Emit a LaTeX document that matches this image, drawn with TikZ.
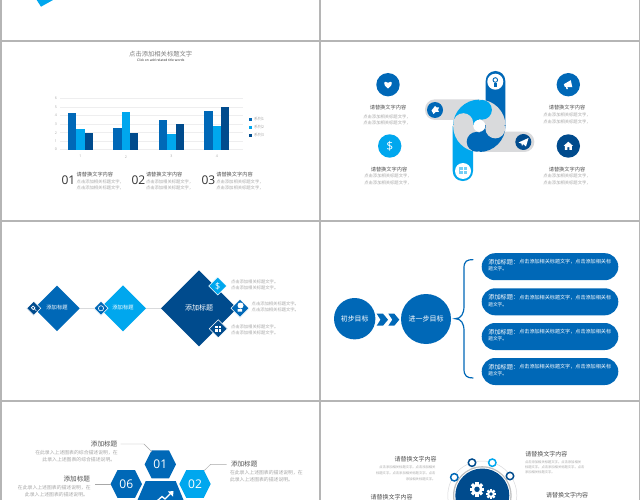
\documentclass[tikz,border=0pt]{standalone}
\usepackage{fontspec}
\setmainfont{Noto Sans CJK SC}
\newfontfamily\numfont{Open Sans}
\usetikzlibrary{shapes.geometric}
\definecolor{cblue}{HTML}{0068B7}
\definecolor{clight}{HTML}{00A7EE}
\definecolor{cdark}{HTML}{004B8D}
\definecolor{cgray}{HTML}{D9DADC}
\definecolor{cframe}{HTML}{B5B5B5}
\definecolor{ctxt}{HTML}{A8A8A8}
\definecolor{chead}{HTML}{505050}
\newcommand\fsz[1]{\fontsize{#1}{#1}\selectfont}
\tikzset{
  lbl/.style={inner sep=0pt,outer sep=0pt},
  small/.style={lbl,text=ctxt,font=\fsz{4.3}},
  tiny/.style={lbl,text=ctxt,font=\fsz{3.3}},
  desc/.style={lbl,text=ctxt,font=\fsz{4.85}},
  head/.style={lbl,text=chead,font=\fsz{5.2}},
  headb/.style={lbl,text=chead,font=\fsz{6}},
  headc/.style={lbl,text=chead,font=\fsz{6.6}},
  axisnum/.style={lbl,text=ctxt,font=\numfont\fsz{3.6}},
  disc/.style={circle,fill=#1,draw=none,inner sep=0pt,outer sep=0pt},
  dia/.style={diamond,aspect=1,fill=#1,draw=none,inner sep=0pt,outer sep=0pt},
  sdia/.style={diamond,aspect=1,fill=#1,draw=white,line width=.5pt,inner sep=0pt,outer sep=0pt,minimum size=14pt},
  pill/.style={rectangle,fill=cblue,rounded corners=13.5pt,minimum width=136.6pt,minimum height=27pt,inner sep=0pt,outer sep=0pt},
  wlbl/.style={lbl,text=white},
  conn/.style={draw=cgray,line width=.5pt},
  leader/.style={draw=ctxt,line width=.4pt},
  hex/.style={fill=#1,draw=none},
  ringdot/.style={circle,fill=white,draw=#1,line width=1.5pt,minimum size=7.4pt,inner sep=0pt}
}
\newcommand\hexagon[5]{% x y halfwide halftop style
  \fill[#5] ({#1-#3},#2) -- ({#1-#4},{#2-#3*0.89}) -- ({#1+#4},{#2-#3*0.89}) -- ({#1+#3},#2) -- ({#1+#4},{#2+#3*0.89}) -- ({#1-#4},{#2+#3*0.89}) -- cycle;}
\newcommand\gearicon[4]{%
  \begin{scope}[shift={(#1,#2)}]
    \foreach \a in {0,45,...,315}{\fill[white,rotate=\a] (-#3*.22,{-#3}) rectangle (#3*.22,0);}
    \fill[white] (0,0) circle[radius=#3*.78];
    \fill[#4] (0,0) circle[radius=#3*.38];
  \end{scope}}
\begin{document}
\begin{tikzpicture}[x=1pt,y=-1pt]
\useasboundingbox (0,0) rectangle (640,500);
\clip (0,0) rectangle (640,500);
\fill[cframe] (0,0) rectangle (640,500);
% panels
\fill[white] (2,-1) rectangle (319,40);
\fill[white] (321,-1) rectangle (638.5,40);
\fill[white] (2,42) rectangle (319,220);
\fill[white] (321,42) rectangle (638.5,220);
\fill[white] (2,222) rectangle (319,400);
\fill[white] (321,222) rectangle (638.5,400);
\fill[white] (2,402) rectangle (319,501);
\fill[white] (321,402) rectangle (638.5,501);
% fragment
\fill[clight] (36.7,0) -- (41,6.7) -- (53,0) -- cycle;

% ---------- chart slide
\node[lbl,text=gray,font=\fsz{6.3}] (charttitle) at (160.7,53.7) {点击添加相关标题文字};
\node[lbl,text=black!85,font=\numfont\fsz{3.3}] (chartsub) at (160.7,60.2) {Click on add related title words};
\foreach \v in {0,...,6}{
  \draw[cgray!45,line width=.4pt] (60,{149.7-8.5*\v}) -- (243,{149.7-8.5*\v});
  \node[axisnum] (ax\v) at (56,{149.7-8.5*\v}) {\v};
}
\foreach \x/\a/\b/\c/\n in {68/4.3/2.4/2/1,113.3/2.5/4.4/2/2,159/3.5/1.8/3/3,204.3/4.5/2.8/5/4}{
  \fill[cblue] (\x,149.7) rectangle ({\x+8.2},{149.7-8.5*\a});
  \fill[clight] ({\x+8.2},149.7) rectangle ({\x+16.6},{149.7-8.5*\b});
  \fill[cdark] ({\x+16.6},149.7) rectangle ({\x+24.9},{149.7-8.5*\c});
  \node[axisnum] (xl\n) at ({\x+16.6-4.1},156.7) {\n};
}
\foreach \y/\c/\n in {119.3/cblue/1,127.3/clight/2,135.3/cdark/3}{
  \fill[\c] (249,{\y-1.3}) rectangle (251.6,{\y+1.3});
  \node[lbl,text=ctxt,font=\fsz{3.9},anchor=west] (lg\n) at (254,\y) {系列\n};
}
\foreach \x/\n/\m in {61.5/01/a,131.5/02/b,201.5/03/c}{
  \node[lbl,text=black!80,font=\numfont\fsz{12},anchor=west] (num\m) at (\x,180.3) {\n};
}
\foreach \x/\m in {76.7/a,146/b,216.3/c}{
  \node[head,anchor=west] (ct\m) at (\x,174.7) {请替换文字内容};
  \node[small,anchor=west] (ca\m) at (\x,181.7) {点击添加相关标题文字，};
  \node[small,anchor=west] (cb\m) at (\x,188) {点击添加相关标题文字，};
}

% ---------- swirl slide
\fill[cblue] (485.7,126) [rounded corners=9.8pt] -- (485.7,71) -- (505.3,71) [sharp corners] -- (505.3,126) -- cycle;
\fill[clight] (452.7,126) -- (473,126) [rounded corners=9.8pt] -- (473,181) -- (452.7,181) [sharp corners] -- cycle;
\fill[cgray] (479,99.3) [rounded corners=10pt] -- (425,99.3) -- (425,120) [sharp corners] -- (479,120) -- cycle;
\fill[cgray] (479,131.7) [rounded corners=10pt] -- (534.3,131.7) -- (534.3,152) [sharp corners] -- (479,152) -- cycle;
\coordinate (swirl) at (479.3,125.8);
\begin{scope}\clip (swirl) rectangle +(-27,-27);\fill[clight] (swirl) circle[radius=26.2];\end{scope}
\begin{scope}\clip (swirl) rectangle +(27,-27);\fill[cgray] (swirl) circle[radius=26.2];\end{scope}
\begin{scope}\clip (swirl) rectangle +(27,27);\fill[cblue] (swirl) circle[radius=26.2];\end{scope}
\begin{scope}\clip (swirl) rectangle +(-27,27);\fill[cgray] (swirl) circle[radius=26.2];\end{scope}
\fill[clight] (swirl) ++(2.7,-16) circle[radius=9.9];
\fill[cgray] (swirl) ++(16,2.7) circle[radius=9.9];
\fill[cblue] (swirl) ++(-2.7,16) circle[radius=9.9];
\fill[cgray] (swirl) ++(-16,-2.7) circle[radius=9.9];
\fill[white] (swirl) circle[radius=6];
\node[disc=white,minimum size=16pt] (armT) at (495.3,81.7) {};
\node[disc=white,minimum size=16pt] (armB) at (463,171) {};
\node[disc=cblue,minimum size=16pt] (armL) at (435,110) {};
\node[disc=cdark,minimum size=16pt] (armR) at (523.3,142) {};
% arm icons
\draw[cblue,line width=.9pt] (495.3,80) circle[radius=2.3];
\fill[cblue] (493.6,83.4) rectangle (497,87.5);
\fill[clight!55] (459,167.5) rectangle (467,174.5);
\draw[white,line width=.3pt] (459.5,170) -- (466.5,170) (463,167.5) -- (463,174.5);
\fill[white] (431.5,110.5) -- (435,106) -- (436.5,107.5) -- (439,107.5) -- (438,110) -- (439,112) -- (435.5,112) -- (433.5,114) -- cycle;
\fill[white] (518.5,142.5) -- (528.5,138) -- (526,146.5) -- (523,144) -- (522,146) -- (521.5,143.7) -- cycle;

\node[disc=cblue,minimum size=23.4pt] (cheart) at (388,84.7) {};
\node[disc=clight,minimum size=23.4pt,text=white,font=\numfont\fsz{12}] (cdollar) at (389.7,146) {\$};
\node[disc=cblue,minimum size=23.4pt] (cmega) at (568.3,84.7) {};
\node[disc=cdark,minimum size=23.4pt] (chouse) at (568.3,146) {};
\begin{scope}[shift={(cheart)}]
  \fill[white] (0,3.8) .. controls (-6.5,-1) and (-3.8,-4.8) .. (0,-1.9) .. controls (3.8,-4.8) and (6.5,-1) .. (0,3.8) -- cycle;
\end{scope}
\begin{scope}[shift={(cmega)}]
  \fill[white] (-4.5,-0.5) -- (2.5,-4.5) -- (4,2.5) -- (-3.5,2.2) -- cycle;
  \fill[white] (-2.5,2) -- (-1,2) -- (-0.3,4.5) -- (-1.8,4.5) -- cycle;
\end{scope}
\begin{scope}[shift={(chouse)}]
  \fill[white] (-4.8,0) -- (0,-4.3) -- (4.8,0) -- (3.5,0) -- (3.5,3.8) -- (1,3.8) -- (1,1.2) -- (-1,1.2) -- (-1,3.8) -- (-3.5,3.8) -- (-3.5,0) -- cycle;
\end{scope}
\foreach \x/\yy/\m in {388/108/a,389/169.3/b,567/108/c,567/169.3/d}{
  \node[head] (st\m) at (\x,\yy) {请替换文字内容};
}
\node[small] (sa1) at (387,116.7) {点击添加相关标题文字，};
\node[small] (sa2) at (387,123) {点击添加相关标题文字，};
\node[small] (sb1) at (388,176.3) {点击添加相关标题文字，};
\node[small] (sb2) at (388,182.7) {点击添加相关标题文字，};
\node[small] (sc1) at (567,115) {点击添加相关标题文字，};
\node[small] (sc2) at (567,121.5) {点击添加相关标题文字，};
\node[small] (sd1) at (567,176.3) {点击添加相关标题文字，};
\node[small] (sd2) at (567,182.7) {点击添加相关标题文字，};

% ---------- diamond slide
\node[dia=cblue,minimum size=45.4pt] (d1) at (57,308.3) {};
\node[dia=clight,minimum size=46pt] (d2) at (123,308.3) {};
\node[dia=cdark,minimum size=76pt] (d3) at (199,308.3) {};
\node[sdia=cblue] (s2) at (101,308.3) {};
\draw[conn] (d1) -- (s2);
\draw[conn] (d2) -- (d3);
\node[sdia=cdark] (s1) at (33.7,308.3) {};
\node[sdia=clight,minimum size=18pt] (s3) at (217.7,286) {};
\node[sdia=cblue,minimum size=18pt] (s4) at (240,308.3) {};
\node[sdia=cdark,minimum size=18pt] (s5) at (218.3,328.7) {};
\node[wlbl,font=\fsz{5.3}] (dt1) at (57,307.3) {添加标题};
\node[wlbl,font=\fsz{5.3}] (dt2) at (123,307.3) {添加标题};
\node[wlbl,font=\fsz{7}] (dt3) at (199,308.3) {添加标题};
\node[wlbl,font=\numfont\fsz{9}] (dollar2) at (217.7,286) {\$};
\draw[white,line width=.7pt] (33.2,307.8) circle[radius=1.8] (34.5,309) -- (36.3,310.8);
\draw[white,line width=.6pt] (101,308.3) circle[radius=2.6];
\fill[white] (240.5,305.5) circle[radius=3] (237.5,309) rectangle (242,311.5);
\fill[white] (215.3,326) rectangle (221.3,332);
\draw[cdark,line width=.3pt] (218.3,326) -- (218.3,332) (215.3,328) -- (221.3,328);
\foreach \x/\yy/\m in {231/281.7/a,231/288/b,251.7/304/c,251.7/310.3/d,231/327/e,231/333.3/f}{
  \node[small,anchor=west] (dx\m) at (\x,\yy) {点击添加相关标题文字。};
}

% ---------- goal slide
\node[disc=cblue,minimum size=41.4pt,text=white,font=\fsz{6.9}] (g1) at (354.7,318.7) {初步目标};
\node[disc=cblue,minimum size=50pt,text=white,font=\fsz{7}] (g2) at (426,319) {进一步目标};
\fill[cblue] (376.7,313.7) -- (383,313.7) -- (388,319.7) -- (383,325.7) -- (376.7,325.7) -- (380.5,319.7) -- cycle;
\fill[cblue] (388.3,313.7) -- (394.3,313.7) -- (399.3,319.7) -- (394.3,325.7) -- (388.3,325.7) -- (392.3,319.7) -- cycle;
\coordinate (bTop) at (473.3,259.6);
\coordinate (bMid) at (455.2,318.7);
\coordinate (bBot) at (473.3,378);
\draw[cblue,line width=1.2pt] (bTop) .. controls (467,259.6) and (464,261) .. (464,268) -- (464,306) .. controls (464,314) and (461,318.7) .. (bMid) .. controls (461,318.7) and (464,323) .. (464,331) -- (464,369) .. controls (464,376) and (467,378) .. (bBot);
\foreach \yy/\n in {266.7/1,301.8/2,336.5/3,371.5/4}{
  \node[pill] (p\n) at (550,\yy) {};
  \node[wlbl,anchor=west,font=\fsz{6.2}] (pa\n) at (488.3,{\yy-4.6}) {添加标题：};
  \node[wlbl,anchor=west,font=\fsz{5.1}] (pb\n) at (519.3,{\yy-4.6}) {点击添加相关标题文字，点击添加相关标};
  \node[wlbl,anchor=west,font=\fsz{4.7}] (pc\n) at (488.3,{\yy+2.4}) {题文字。};
}

% ---------- hexagon slide
\hexagon{160.3}{464.3}{15.7}{8.7}{hex=cblue}
\hexagon{126.3}{484}{15.7}{8.7}{hex=cblue}
\hexagon{195}{484}{15.7}{8.7}{hex=clight}
\fill[cblue] (145.7,481) -- (175.7,481) -- (186,506) -- (175.7,531) -- (145.7,531) -- (135,506) -- cycle;
\node[wlbl,font=\numfont\fsz{12}] (h1) at (160.3,464.3) {01};
\node[wlbl,font=\numfont\fsz{12}] (h6) at (126.3,484) {06};
\node[wlbl,font=\numfont\fsz{12}] (h2) at (195,484) {02};
\draw[white,line width=1.3pt] (157,501) -- (162,496.5) -- (165,499) -- (171,493);
\fill[white] (168,491.5) -- (173.5,491) -- (173,496.5) -- cycle;
\node[headc,anchor=east] (ht1) at (117.3,444) {添加标题};
\node[desc,anchor=east] (hd1a) at (117.7,452.7) {在此录入上述图表的综合描述说明，在};
\node[desc,anchor=east] (hd1b) at (115.2,459.7) {此录入上述图表的综合描述说明。};
\node[headc,anchor=west] (ht2) at (231,463.7) {添加标题};
\node[desc,anchor=west] (hd2a) at (230,473) {在此录入上述图表的描述说明，在};
\node[desc,anchor=west] (hd2b) at (230,480) {此录入上述图表的描述说明。};
\node[headc,anchor=east] (ht6) at (90,479) {添加标题};
\node[desc,anchor=east] (hd6a) at (90.7,488) {在此录入上述图表的描述说明，在};
\node[desc,anchor=east] (hd6b) at (88,495) {此录入上述图表的描述说明。};
\coordinate (l1a) at (120.7,444);
\coordinate (l1b) at (144,444);
\coordinate (l1c) at (151.7,451.7);
\draw[leader] (l1a) -- (l1b) -- (l1c);
\coordinate (l2a) at (226.7,464.3);
\coordinate (l2b) at (210.7,464.3);
\coordinate (l2c) at (204,470.7);
\draw[leader] (l2a) -- (l2b) -- (l2c);
\coordinate (l6a) at (95,484.3);
\coordinate (l6b) at (111,484.3);
\draw[leader] (l6a) -- (l6b);

% ---------- gear slide
\coordinate (gc) at (482.3,495.5);
\draw[cgray,line width=.5pt] (gc) circle[radius=34.5];
\fill[cgray!70!gray] (gc) circle[radius=29.3];
\fill[white] (gc) circle[radius=28];
\node[disc=cdark,minimum size=54pt] (gcore) at (gc) {};
\gearicon{477}{489.3}{7.2}{cdark}
\gearicon{491}{494}{5}{cdark}
\node[ringdot=cdark] (r1) at (472,462.7) {};
\node[ringdot=clight] (r2) at (492.3,462.7) {};
\node[ringdot=cblue] (r3) at (454.3,477.3) {};
\node[ringdot=cdark] (r4) at (510,476) {};
\node[headb,anchor=west] (gt1) at (525.3,454.7) {请替换文字内容};
\node[tiny,anchor=west] (g1a) at (525,462) {点击添加相关标题文字。点击添加相关};
\node[tiny,anchor=west] (g1b) at (525,467) {标题文字。点击添加相关标题文字。点击};
\node[tiny,anchor=west] (g1c) at (525,472) {添加相关标题文字。};
\node[headb,anchor=east] (gt2) at (436.7,459) {请替换文字内容};
\node[tiny,anchor=east] (g2a) at (435.5,467) {点击添加相关标题文字。点击添加相关};
\node[tiny,anchor=east] (g2b) at (435.5,473.3) {标题文字。点击添加相关标题文字。点击};
\node[tiny,anchor=east] (g2c) at (435.5,479.7) {添加相关标题文字。};
\node[headb,anchor=west] (gt3) at (370.7,497) {请替换文字内容};
\node[headb,anchor=west] (gt4) at (546,495) {请替换文字内容};
\end{tikzpicture}
\end{document}
